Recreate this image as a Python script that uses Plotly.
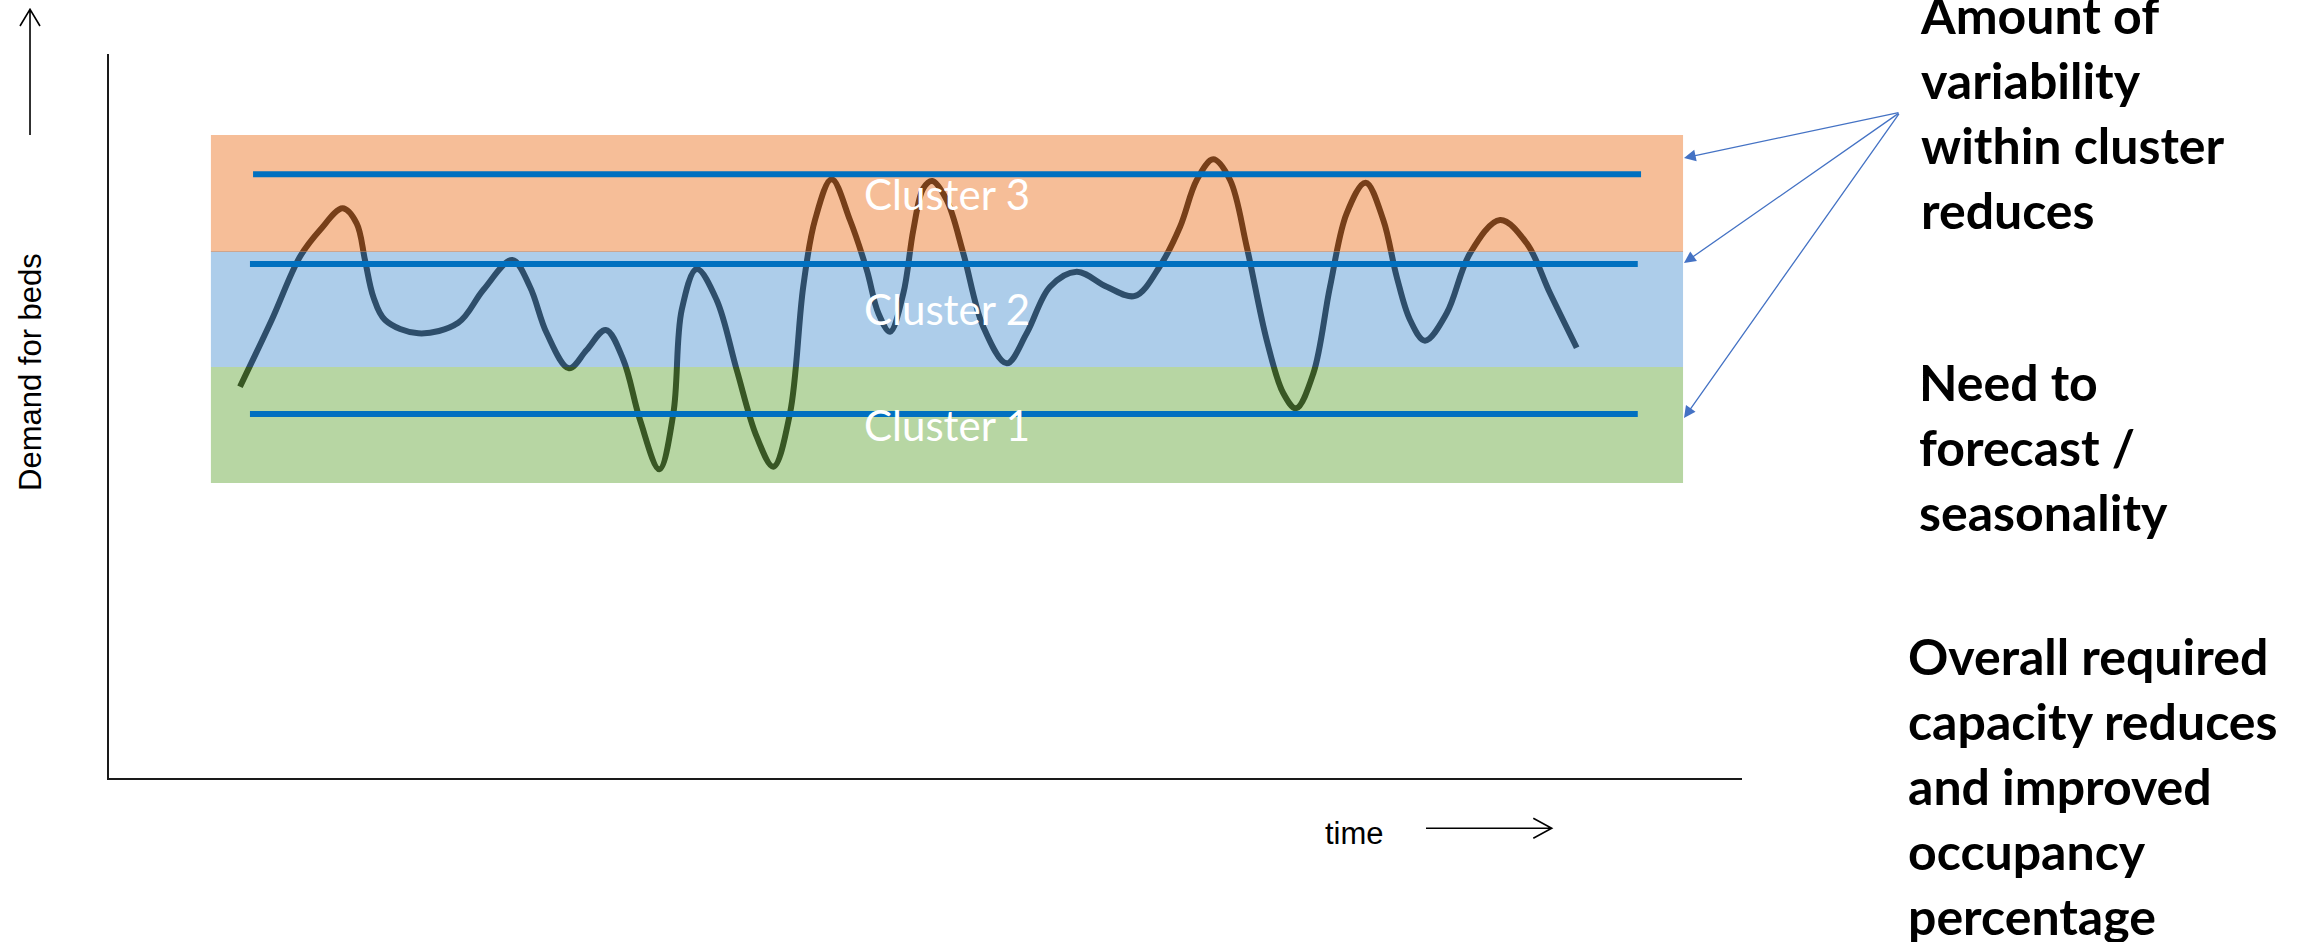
import plotly.graph_objects as go

W, H = 2305, 942

# Bed demand over time (arbitrary units, 0-100 on both axes)
time = [8.05, 9.99, 11.72, 12.95, 14.34, 15.19, 15.70, 16.21, 16.93, 18.97,
        21.41, 22.94, 24.72, 25.80, 26.83, 28.19, 29.27, 30.44, 31.52, 32.54,
        33.72, 34.58, 35.09, 36.01, 37.23, 38.46, 39.68, 40.70, 41.72, 42.53,
        43.25, 44.27, 45.39, 46.42, 47.13, 47.84, 48.66, 49.27, 49.88, 50.43,
        51.31, 52.33, 53.55, 54.99, 56.21, 57.64, 59.27, 61.11, 62.84, 64.37,
        65.60, 66.62, 67.63, 68.66, 69.68, 70.90, 71.92, 72.70, 73.76, 74.78,
        75.80, 76.96, 78.04, 78.86, 79.68, 80.59, 81.92, 83.35, 85.19, 86.82,
        88.25, 89.88]
demand = [54.01, 63.22, 71.95, 75.64, 78.63, 76.56, 71.50, 66.43, 63.22, 61.38,
          62.84, 67.36, 71.50, 67.81, 61.38, 56.55, 59.08, 61.84, 57.70, 49.41,
          42.61, 50.34, 64.60, 70.26, 65.98, 56.31, 47.11, 42.97, 50.34, 67.81,
          77.02, 82.64, 77.02, 70.12, 64.14, 61.60, 66.90, 75.64, 81.39, 82.40,
          79.78, 72.42, 62.29, 57.24, 61.38, 67.81, 69.88, 67.81, 66.53, 70.67,
          76.09, 82.54, 85.40, 82.54, 73.33, 60.46, 53.10, 51.03, 55.86, 67.81,
          77.94, 82.17, 77.02, 69.19, 63.22, 60.36, 64.14, 72.42, 77.02, 73.80,
          66.90, 59.39]

# Demand clusters (bands) and the capacity level set for each
cluster_names = ["Cluster 1", "Cluster 2", "Cluster 3"]
cluster_low = [40.72, 56.73, 72.60]
cluster_high = [56.73, 72.74, 88.75]
cluster_colors = ["rgba(112,173,71,0.5)", "rgba(91,155,213,0.5)", "rgba(237,125,49,0.5)"]
band_start, band_end = 6.27, 96.39

capacity_level = [50.24, 70.95, 83.33]
capacity_start = [8.66, 8.66, 8.85]
capacity_end = [93.62, 93.62, 93.82]

notes = [
    "Amount of<br>variability<br>within cluster<br>reduces",
    "Need to<br>forecast /<br>seasonality",
    "Overall required<br>capacity reduces<br>and improved<br>occupancy<br>percentage",
]


def px_x(v):
    return v / W


def px_y(v):
    return 1 - v / H


fig = go.Figure()

# demand curve sits underneath the translucent cluster bands
fig.add_trace(go.Scatter(
    x=time, y=demand, mode="lines",
    line=dict(color="#000000", width=6, shape="spline", smoothing=1.0),
    hoverinfo="skip", showlegend=False,
))

for lo, hi, col in zip(cluster_low, cluster_high, cluster_colors):
    fig.add_trace(go.Scatter(
        x=[band_start, band_end, band_end, band_start, band_start],
        y=[lo, lo, hi, hi, lo],
        mode="lines", fill="toself", fillcolor=col,
        line=dict(width=0, color="rgba(0,0,0,0)"),
        hoverinfo="skip", showlegend=False,
    ))

for lvl, x0, x1 in zip(capacity_level, capacity_start, capacity_end):
    fig.add_trace(go.Scatter(
        x=[x0, x1], y=[lvl, lvl], mode="lines",
        line=dict(color="#0070C0", width=6),
        hoverinfo="skip", showlegend=False,
    ))

annotations = []
for name, lo, hi in zip(cluster_names, cluster_low, cluster_high):
    annotations.append(dict(
        x=(band_start + band_end) / 2, y=(lo + hi) / 2, xref="x", yref="y",
        text=name, showarrow=False, xanchor="center", yanchor="middle",
        font=dict(family="Lato", size=42, color="#FFFFFF"),
    ))

# side notes
note_pos = [(1918, 113), (1917, 447.5), (1906, 785.5)]
for txt, (nx, ny) in zip(notes, note_pos):
    annotations.append(dict(
        x=px_x(nx), y=px_y(ny), xref="paper", yref="paper",
        text="<b>" + txt + "</b>", showarrow=False, xanchor="left",
        yanchor="middle", align="left",
        font=dict(family="Lato", size=50, color="#000000"),
    ))

# pointers from the variability note to each band
tail = (1900, 112.3)
for tip in [(1684, 158), (1684, 263), (1684, 418)]:
    annotations.append(dict(
        x=px_x(tip[0]), y=px_y(tip[1]), xref="paper", yref="paper",
        ax=tail[0] - tip[0], ay=tail[1] - tip[1], axref="pixel", ayref="pixel",
        text="", showarrow=True, arrowhead=2, arrowsize=1.8, arrowwidth=1.3,
        arrowcolor="#4472C4", standoff=0,
    ))

# axis captions
annotations.append(dict(
    x=px_x(30), y=px_y(372), xref="paper", yref="paper",
    text="Demand for beds", textangle=-90, showarrow=False,
    xanchor="center", yanchor="middle",
    font=dict(family="Liberation Sans", size=31, color="#000000"),
))
annotations.append(dict(
    x=px_x(1354), y=px_y(833), xref="paper", yref="paper",
    text="time", showarrow=False, xanchor="center", yanchor="middle",
    font=dict(family="Liberation Sans", size=31, color="#000000"),
))


def path(points):
    segs = []
    for seg in points:
        segs.append("M " + " L ".join(f"{px_x(a):.5f},{px_y(b):.5f}" for a, b in seg))
    return " ".join(segs)


shapes = [
    dict(type="path", xref="paper", yref="paper",
         path=path([[(30, 135), (30, 9.3)], [(20, 26), (30, 9.3), (40, 26)]]),
         line=dict(color="#000000", width=1.6)),
    dict(type="path", xref="paper", yref="paper",
         path=path([[(1426, 828.3), (1551.7, 828.3)],
                    [(1533.3, 818.3), (1551.7, 828.3), (1533.3, 838.3)]]),
         line=dict(color="#000000", width=1.6)),
]

fig.update_layout(
    width=W, height=H, autosize=False,
    margin=dict(l=0, r=0, t=0, b=0, pad=0),
    paper_bgcolor="#FFFFFF", plot_bgcolor="#FFFFFF",
    showlegend=False,
    xaxis=dict(domain=[108.5 / W, 1742 / W], range=[0, 100], showgrid=False,
               zeroline=False, showticklabels=False, ticks="", showline=True,
               linecolor="#1A1A1A", linewidth=2, fixedrange=True),
    yaxis=dict(domain=[px_y(778), px_y(53.5)], range=[0, 100], showgrid=False,
               zeroline=False, showticklabels=False, ticks="", showline=True,
               linecolor="#1A1A1A", linewidth=2, fixedrange=True),
    annotations=annotations,
    shapes=shapes,
)

fig.write_html("out.html", config={"displayModeBar": False})
